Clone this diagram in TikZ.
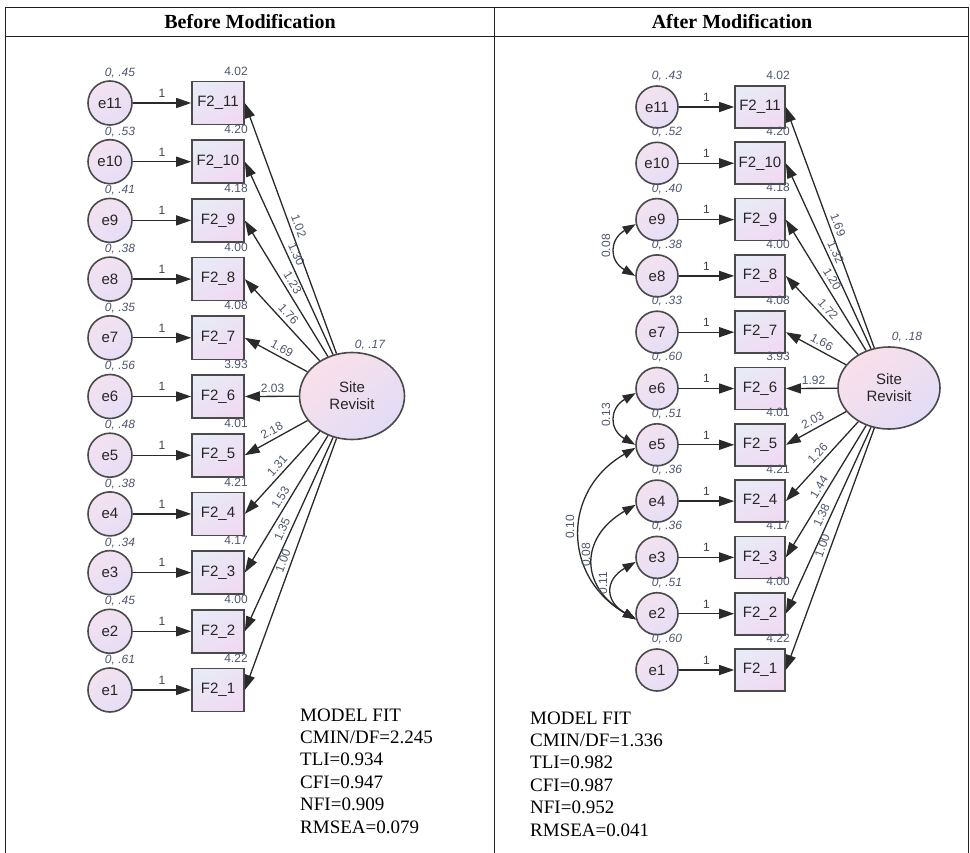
\documentclass[tikz,border=0pt]{standalone}
\usepackage{fontspec}
\setmainfont{Liberation Serif}
\newfontfamily\amosfont{Liberation Sans}
\usetikzlibrary{arrows.meta,shapes.geometric,calc}

\definecolor{edge}{HTML}{2A2A2A}
\definecolor{numtxt}{HTML}{4E566E}
\definecolor{boxA}{RGB}{232,234,246}
\definecolor{boxB}{RGB}{240,218,243}
\definecolor{cirA}{RGB}{243,226,240}
\definecolor{cirB}{RGB}{230,222,246}
\definecolor{ellA}{RGB}{250,224,234}
\definecolor{ellB}{RGB}{226,220,246}
\definecolor{rule}{HTML}{202020}

\begin{document}
\begin{tikzpicture}[x=1pt,y=1pt,
  obs/.style={rectangle, draw=edge!85, line width=1.6pt, minimum width=52pt,
    minimum height=43pt, inner sep=0pt, top color=boxA, bottom color=boxB,
    shading angle=30, text=black!85, font=\amosfont\fontsize{15}{18}\selectfont},
  errc/.style={circle, draw=edge!85, line width=1.6pt, minimum size=44pt,
    inner sep=0pt, top color=cirA, bottom color=cirB, shading angle=30,
    text=black!85, font=\amosfont\fontsize{15}{18}\selectfont},
  latent/.style={ellipse, draw=edge!85, line width=1.6pt, inner sep=0pt,
    top color=ellA, bottom color=ellB, shading angle=40, align=center,
    text=black!85, font=\amosfont\fontsize{15}{17}\selectfont},
  pth/.style={draw=edge, line width=1.3pt, -{Triangle[length=15pt,width=10pt]}},
  cov/.style={draw=edge, line width=1.3pt,
    {Triangle[length=13pt,width=9pt]}-{Triangle[length=13pt,width=9pt]}},
  num/.style={inner sep=1pt, text=numtxt, font=\amosfont\fontsize{12}{14}\selectfont},
  varl/.style={num, font=\amosfont\itshape\fontsize{12}{14}\selectfont},
  one/.style={inner sep=1pt, text=black!75, font=\amosfont\fontsize{12}{14}\selectfont},
  fittxt/.style={anchor=base west, inner sep=0pt, text=black, font=\fontsize{19}{22}\selectfont},
  head/.style={inner sep=0pt, text=black, font=\bfseries\fontsize{20}{24}\selectfont}
]
\useasboundingbox (0,0) rectangle (970,-853);

% table frame
\draw[rule, line width=1pt] (5,-853) -- (5,-8) -- (968,-8) -- (968,-853);
\draw[rule, line width=1pt] (5,-37) -- (968,-37);
\draw[rule, line width=1pt] (494,-8) -- (494,-853);
\node[head] (hbefore) at (250,-22) {Before Modification};
\node[head] (hafter) at (732,-22) {After Modification};

% ---------------- model before modification ----------------
\node[latent, minimum width=105pt, minimum height=87pt] (lsr) at (352,-396) {Site\\Revisit};
\node[varl] (lsrv) at (370,-345) {0, .17};

\foreach \i/\v/\m in {11/.45/4.02, 10/.53/4.20, 9/.41/4.18, 8/.38/4.00,
    7/.35/4.08, 6/.56/3.93, 5/.48/4.01, 4/.38/4.21, 3/.34/4.17, 2/.45/4.00, 1/.61/4.22} {
  \pgfmathsetmacro\yy{-(690-(\i-1)*58.7)}
  \node[errc] (le\i) at (110,\yy) {e\i};
  \node[obs] (lf\i) at (218,\yy) {F2\_\i};
  \draw[pth] (le\i) -- node[one, above=4pt] (lone\i) {1} (lf\i);
  \node[varl] (lev\i) at ($(le\i)+(10,30)$) {0, \v};
  \node[num] (lfm\i) at ($(lf\i)+(18,32)$) {\m};
}

\foreach \i/\l/\t in {11/1.02/0.57, 10/1.30/0.59, 9/1.23/0.62, 8/1.76/0.65,
    7/1.69/0.69, 6/2.03/0.74, 5/2.18/0.71, 4/1.31/0.64, 3/1.53/0.60, 2/1.35/0.58, 1/1.00/0.57} {
  \draw[pth] (lsr) -- (lf\i.east);
  \path (lsr.center) -- (lf\i.east) node[num, pos=\t, sloped, above=3pt] (lld\i) {\l};
}

\node[fittxt] (lfit1) at (300,-721) {MODEL FIT};
\node[fittxt] (lfit2) at (300,-743.4) {CMIN/DF=2.245};
\node[fittxt] (lfit3) at (300,-765.8) {TLI=0.934};
\node[fittxt] (lfit4) at (300,-788.2) {CFI=0.947};
\node[fittxt] (lfit5) at (300,-810.6) {NFI=0.909};
\node[fittxt] (lfit6) at (300,-833) {RMSEA=0.079};

% ---------------- model after modification ----------------
\node[latent, minimum width=102pt, minimum height=82pt] (rsr) at (889,-388) {Site\\Revisit};
\node[varl] (rsrv) at (907,-337) {0, .18};

\foreach \i/\v/\m in {11/.43/4.02, 10/.52/4.20, 9/.40/4.18, 8/.38/4.00,
    7/.33/4.08, 6/.60/3.93, 5/.51/4.01, 4/.36/4.21, 3/.36/4.17, 2/.51/4.00, 1/.60/4.22} {
  \pgfmathsetmacro\yy{-(670-(\i-1)*56.3)}
  \node[errc, minimum size=42pt] (re\i) at (657,\yy) {e\i};
  \node[obs, minimum width=50pt, minimum height=42pt] (rf\i) at (760,\yy) {F2\_\i};
  \draw[pth] (re\i) -- node[one, above=4pt] (rone\i) {1} (rf\i);
  \node[varl] (rev\i) at ($(re\i)+(10,31)$) {0, \v};
  \node[num] (rfm\i) at ($(rf\i)+(18,32)$) {\m};
}

\foreach \i/\l/\t in {11/1.69/0.57, 10/1.32/0.59, 9/1.20/0.62, 8/1.72/0.65,
    7/1.66/0.69, 6/1.92/0.73, 5/2.03/0.70, 4/1.26/0.63, 3/1.44/0.61, 2/1.38/0.58, 1/1.00/0.57} {
  \draw[pth] (rsr) -- (rf\i.east);
  \path (rsr.center) -- (rf\i.east) node[num, pos=\t, sloped, above=3pt] (rld\i) {\l};
}

% error covariances
\draw[cov] (re9.192) to[out=210,in=150,looseness=1.5] (re8.180);
\draw[cov] (re6.192) to[out=210,in=150,looseness=1.5] (re5.180);
\draw[cov] (re5.188) to[out=210,in=150,looseness=1.27] (re2.195);
\draw[cov] (re4.190) to[out=210,in=150,looseness=1.45] (re2.195);
\draw[cov] (re3.192) to[out=210,in=150,looseness=1.6] (re2.195);
\node[num, rotate=90] (c98) at (606,-246) {0.08};
\node[num, rotate=90] (c65) at (606,-415) {0.13};
\node[num, rotate=90] (c52) at (570,-527) {0.10};
\node[num, rotate=90] (c42) at (586,-555) {0.08};
\node[num, rotate=90] (c32) at (603,-583) {0.11};

\node[fittxt] (rfit1) at (530,-724) {MODEL FIT};
\node[fittxt] (rfit2) at (530,-746.4) {CMIN/DF=1.336};
\node[fittxt] (rfit3) at (530,-768.8) {TLI=0.982};
\node[fittxt] (rfit4) at (530,-791.2) {CFI=0.987};
\node[fittxt] (rfit5) at (530,-813.6) {NFI=0.952};
\node[fittxt] (rfit6) at (530,-836) {RMSEA=0.041};
\end{tikzpicture}
\end{document}
